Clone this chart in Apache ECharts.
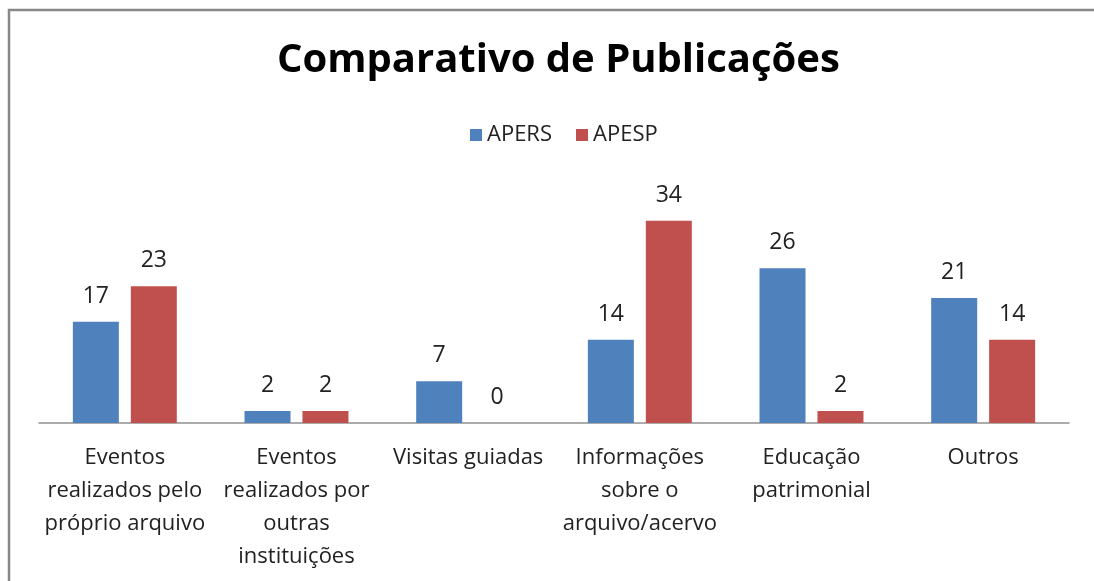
<!DOCTYPE html>
<html>
<head>
<meta charset="utf-8">
<script src="https://cdn.jsdelivr.net/npm/echarts@6/dist/echarts.min.js"></script>
<style>
  html, body { margin: 0; padding: 0; background: #fff; }
  #chart { width: 1094px; height: 581px; }
</style>
</head>
<body>
<div id="chart"></div>
<script>
// 数据
var categories = [
  'Eventos\nrealizados pelo\npróprio arquivo',
  'Eventos\nrealizados por\noutras\ninstituições',
  'Visitas guiadas',
  'Informações\nsobre o\narquivo/acervo',
  'Educação\npatrimonial',
  'Outros'
];
var apers = [17, 2, 7, 14, 26, 21];
var apesp = [23, 2, 0, 34, 2, 14];

(function () {
  var myChart = echarts.init(document.getElementById('chart'));
  var font = '"Open Sans", "Noto Sans", sans-serif';
  var labelStyle = {
    show: true,
    position: 'top',
    distance: 14,
    fontFamily: font,
    fontSize: 23,
    color: '#222'
  };
  var option = {
    animation: false,
    color: ['#4F81BD', '#C0504D'],
    // 外框
    graphic: [
      {
        type: 'polyline',
        shape: { points: [[9, 581], [9, 10], [1094, 10]] },
        style: { stroke: '#888888', lineWidth: 2.5, fill: null }
      }
    ],
    title: {
      text: 'Comparativo de Publicações',
      left: 272,
      top: 36,
      textStyle: {
        fontFamily: font,
        fontWeight: 'bold',
        fontSize: 40,
        color: '#000'
      }
    },
    legend: {
      top: 119,
      left: 465,
      itemWidth: 12,
      itemHeight: 12,
      itemGap: 24,
      icon: 'rect',
      textStyle: { fontFamily: font, fontSize: 22, color: '#222' },
      data: ['APERS', 'APESP']
    },
    grid: {
      left: 39,
      right: 25,
      top: 185,
      bottom: 158
    },
    xAxis: {
      type: 'category',
      data: categories,
      axisTick: { show: false },
      axisLine: { lineStyle: { color: '#909090', width: 1.5 } },
      axisLabel: {
        interval: 0,
        margin: 18,
        fontFamily: font,
        fontSize: 22,
        lineHeight: 33,
        color: '#222'
      }
    },
    yAxis: {
      type: 'value',
      min: 0,
      max: 40,
      show: false,
      splitLine: { show: false }
    },
    series: [
      {
        name: 'APERS',
        type: 'bar',
        barWidth: 46,
        barGap: '26%',
        data: apers,
        label: labelStyle
      },
      {
        name: 'APESP',
        type: 'bar',
        barWidth: 46,
        data: apesp,
        label: labelStyle
      }
    ]
  };
  myChart.setOption(option);
})();
</script>
</body>
</html>
